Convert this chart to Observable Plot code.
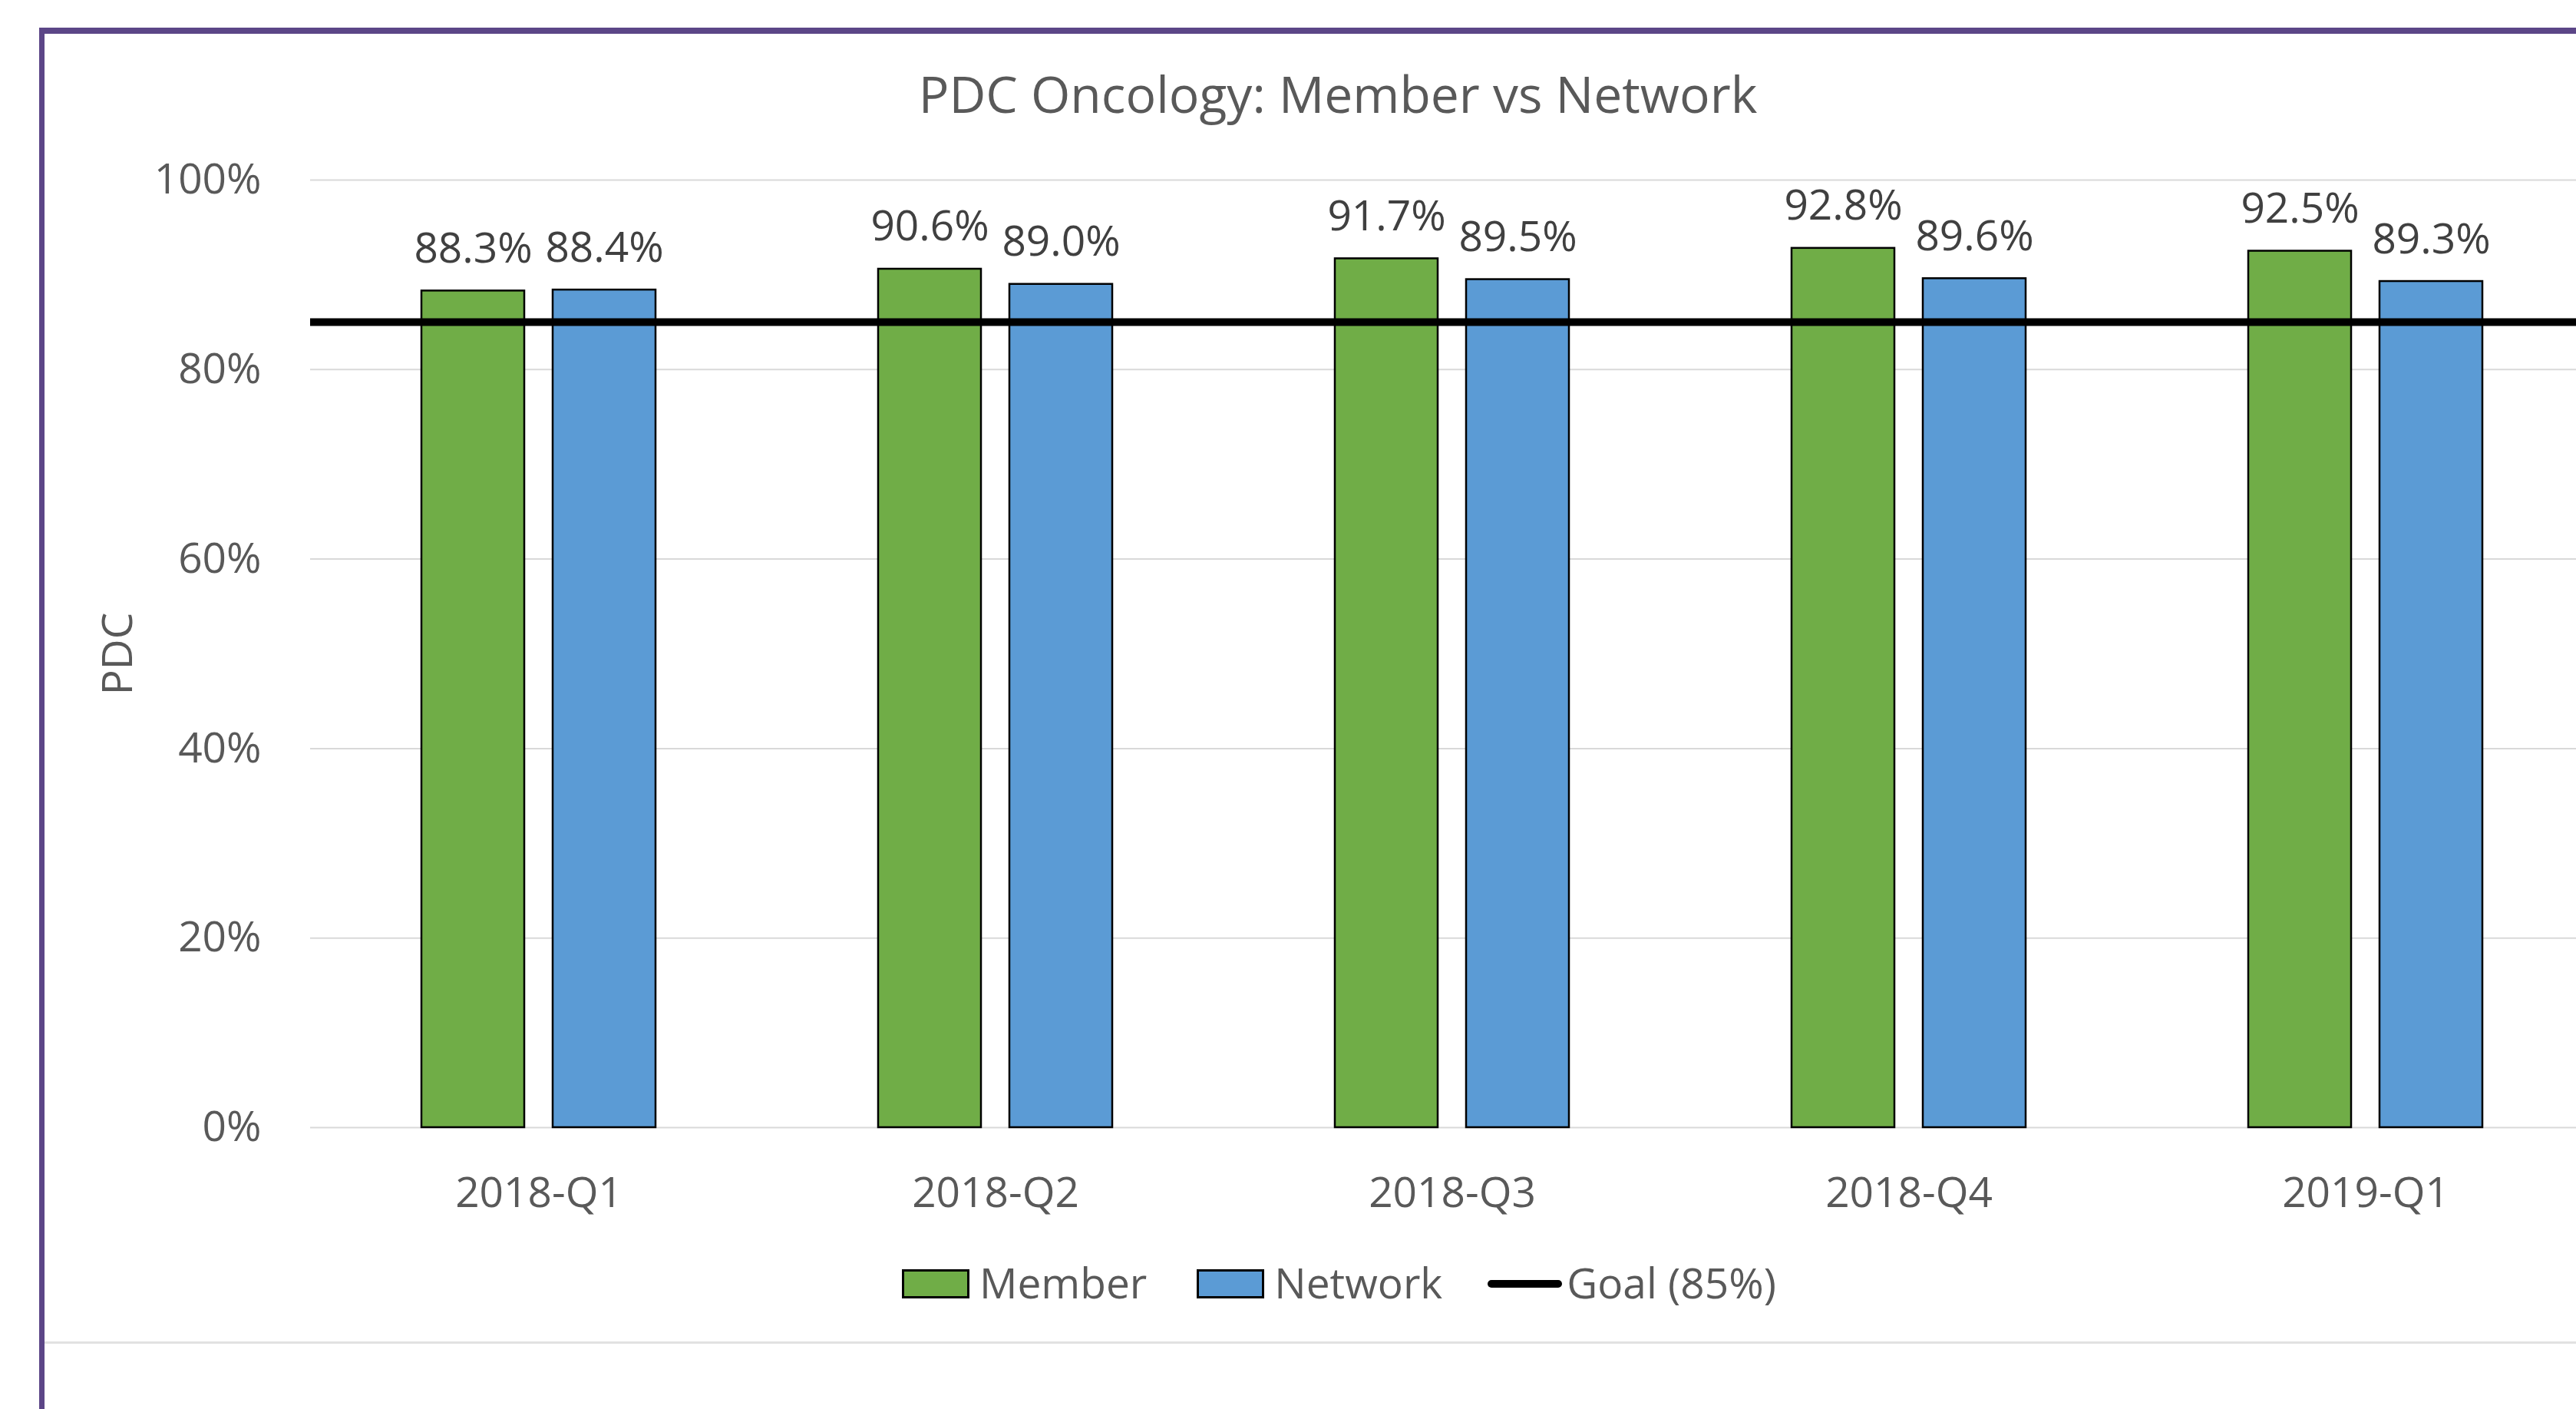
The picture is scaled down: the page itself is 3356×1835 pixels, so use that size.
<!DOCTYPE html>
<html>
<head>
<meta charset="utf-8">
<script src="https://cdn.jsdelivr.net/npm/d3@7"></script>
<script src="https://cdn.jsdelivr.net/npm/@observablehq/plot@0.6"></script>
<style>
  html, body { margin: 0; padding: 0; overflow: hidden; background: #fff; width: 3356px; height: 1835px; }
  body { position: relative; font-family: "Open Sans", sans-serif; color: #595959; }
  #frame { position: absolute; left: 51px; top: 36px; width: 3600px; height: 2000px; border-top: 8px solid #5C4687; border-left: 7px solid #5C4687; z-index: 5; pointer-events: none; }
  #bottomline { position: absolute; left: 58px; top: 1747px; width: 3400px; height: 3px; background: #e2e2e2; }
  #title { position: absolute; left: 1743px; top: 88px; transform: translateX(-50%); font-size: 66px; line-height: 66px; white-space: nowrap; color: #595959; }
  #chart { position: absolute; left: 0; top: 0; width: 3440px; }
  #legend { position: absolute; left: 1175px; top: 1642px; height: 60px; display: flex; align-items: center; font-size: 55px; line-height: 55px; white-space: nowrap; color: #595959; }
  .sw { width: 88px; height: 38px; box-sizing: border-box; border: 3px solid #000; }
  .ln { width: 97px; height: 10px; border-radius: 5px; background: #000; }
  .lt { margin-left: 13px; position: relative; top: -3px; }
  .gap { width: 65px; }
</style>
</head>
<body>
<div id="title"></div>
<div id="chart"></div>
<div id="legend"></div>
<div id="bottomline"></div>
<div id="frame"></div>
<script>
const chartTitle = "PDC Oncology: Member vs Network";
const quarters = ["2018-Q1", "2018-Q2", "2018-Q3", "2018-Q4", "2019-Q1"];
const seriesNames = ["Member", "Network"];
const memberPDC = [88.3, 90.6, 91.7, 92.8, 92.5];
const networkPDC = [88.4, 89.0, 89.5, 89.6, 89.3];
const goalValue = 85;
const goalLabel = "Goal (85%)";
const yTicks = [0, 20, 40, 60, 80, 100];
const yLabel = "PDC";
const seriesColors = ["#70AD47", "#5B9BD5"];

const rows = quarters.flatMap((q, i) => [
  {quarter: q, series: seriesNames[0], value: memberPDC[i]},
  {quarter: q, series: seriesNames[1], value: networkPDC[i]}
]);

document.getElementById("title").textContent = chartTitle;

const plot = Plot.plot({
  width: 3440,
  height: 1620,
  marginTop: 234,
  marginBottom: 152,
  marginLeft: 404,
  marginRight: 61,
  facet: {marginTop: 0, marginRight: 0, marginBottom: 0, marginLeft: 0},
  style: {fontFamily: "'Open Sans', sans-serif", fontSize: "55px", color: "#595959", background: "transparent", maxWidth: "none", overflow: "visible"},
  fx: {domain: quarters, padding: 0, label: null, tickSize: 0, tickPadding: 64},
  x: {domain: seriesNames, axis: null, paddingInner: 0.2135, paddingOuter: 0.8465},
  y: {domain: [0, 100], ticks: yTicks, tickFormat: d => d + "%", tickSize: 0, tickPadding: 64, label: yLabel, labelArrow: "none", labelAnchor: "center", labelOffset: 272},
  color: {domain: seriesNames, range: seriesColors},
  marks: [
    Plot.ruleY(yTicks, {stroke: "#d9d9d9", strokeWidth: 2}),
    Plot.barY(rows, {fx: "quarter", x: "series", y: "value", fill: "series", stroke: "#000", strokeWidth: 2.5}),
    Plot.ruleY([goalValue], {stroke: "#000", strokeWidth: 10}),
    Plot.text(rows, {fx: "quarter", x: "series", y: "value", text: d => d.value.toFixed(1) + "%", dy: -37, lineAnchor: "bottom", fill: "#404040"})
  ]
});
document.getElementById("chart").appendChild(plot);

const legend = document.getElementById("legend");
seriesNames.forEach((s, i) => {
  if (i > 0) { const g = document.createElement("div"); g.className = "gap"; legend.appendChild(g); }
  const sw = document.createElement("div"); sw.className = "sw"; sw.style.background = seriesColors[i]; legend.appendChild(sw);
  const t = document.createElement("span"); t.className = "lt"; t.textContent = s; legend.appendChild(t);
});
{
  const g = document.createElement("div"); g.className = "gap"; g.style.width = "59px"; legend.appendChild(g);
  const ln = document.createElement("div"); ln.className = "ln"; legend.appendChild(ln);
  const t = document.createElement("span"); t.className = "lt"; t.style.marginLeft = "6px"; t.textContent = goalLabel; legend.appendChild(t);
}
</script>
</body>
</html>
